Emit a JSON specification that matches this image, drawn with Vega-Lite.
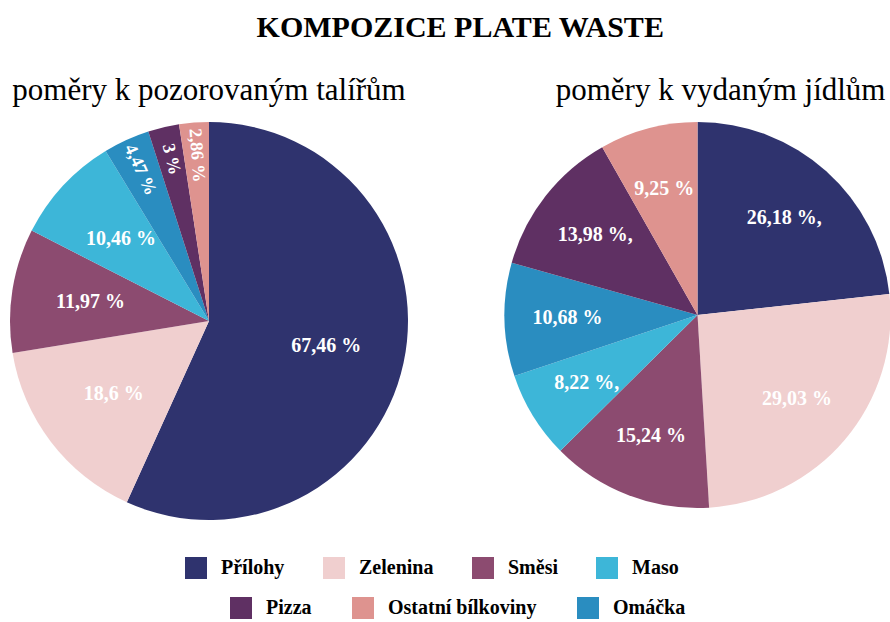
{
  "$schema": "https://vega.github.io/schema/vega-lite/v6.json",
  "background": "white",
  "padding": {"left": 10, "top": 13, "right": 0, "bottom": 0},
  "title": {"text": "KOMPOZICE PLATE WASTE", "font": "Liberation Serif", "fontSize": 30, "fontWeight": "bold", "color": "#000000", "anchor": "middle", "dx": 10, "offset": 32},
  "data": {"values": [
    {"graf": "talire", "kategorie": "Přílohy", "poradi": 1, "hodnota": 67.46, "popisek": "67,46 %"},
    {"graf": "talire", "kategorie": "Zelenina", "poradi": 2, "hodnota": 18.6, "popisek": "18,6 %"},
    {"graf": "talire", "kategorie": "Směsi", "poradi": 3, "hodnota": 11.97, "popisek": "11,97 %"},
    {"graf": "talire", "kategorie": "Maso", "poradi": 4, "hodnota": 10.46, "popisek": "10,46 %"},
    {"graf": "talire", "kategorie": "Omáčka", "poradi": 5, "hodnota": 4.47, "popisek": "4,47 %"},
    {"graf": "talire", "kategorie": "Pizza", "poradi": 6, "hodnota": 3, "popisek": "3 %"},
    {"graf": "talire", "kategorie": "Ostatní bílkoviny", "poradi": 7, "hodnota": 2.86, "popisek": "2,86 %"},
    {"graf": "jidla", "kategorie": "Přílohy", "poradi": 1, "hodnota": 26.18, "popisek": "26,18 %,"},
    {"graf": "jidla", "kategorie": "Zelenina", "poradi": 2, "hodnota": 29.03, "popisek": "29,03 %"},
    {"graf": "jidla", "kategorie": "Směsi", "poradi": 3, "hodnota": 15.24, "popisek": "15,24 %"},
    {"graf": "jidla", "kategorie": "Maso", "poradi": 4, "hodnota": 8.22, "popisek": "8,22 %,"},
    {"graf": "jidla", "kategorie": "Omáčka", "poradi": 5, "hodnota": 10.68, "popisek": "10,68 %"},
    {"graf": "jidla", "kategorie": "Pizza", "poradi": 6, "hodnota": 13.98, "popisek": "13,98 %,"},
    {"graf": "jidla", "kategorie": "Ostatní bílkoviny", "poradi": 7, "hodnota": 9.25, "popisek": "9,25 %"}
  ]},
  "spacing": 97,
  "bounds": "flush",
  "hconcat": [
    {
      "width": 398,
      "height": 398,
      "title": {"text": "poměry k pozorovaným talířům", "anchor": "middle", "offset": 15},
      "transform": [
        {"filter": "datum.graf == 'talire'"},
        {"joinaggregate": [{"op": "sum", "field": "hodnota", "as": "celkem"}]},
        {"window": [{"op": "sum", "field": "hodnota", "as": "kumulace"}], "sort": [{"field": "poradi", "order": "ascending"}], "frame": [null, 0]},
        {"calculate": "datum.hodnota / datum.celkem", "as": "podil"},
        {"calculate": "(datum.kumulace - datum.hodnota / 2) / datum.celkem * 360 + 90", "as": "uhel"},
        {"calculate": "datum.podil < 0.05 ? '' : datum.popisek", "as": "popisek_vodorovny"},
        {"calculate": "datum.podil < 0.05 ? datum.popisek : ''", "as": "popisek_radialni"}
      ],
      "layer": [
        {
          "mark": {"type": "arc", "outerRadius": 199},
          "encoding": {
            "theta": {"field": "hodnota", "type": "quantitative", "stack": true},
            "color": {
              "field": "kategorie", "type": "nominal",
              "scale": {
                "domain": ["Přílohy", "Zelenina", "Směsi", "Maso", "Pizza", "Ostatní bílkoviny", "Omáčka"],
                "range": ["#2F336E", "#F0CFCF", "#8C4B70", "#3DB6D8", "#5F3063", "#DE938F", "#2A8DC0"]
              },
              "legend": {
                "orient": "none",
                "legendX": 175,
                "legendY": 435,
                "direction": "horizontal",
                "columns": 4,
                "columnPadding": 38,
                "values": ["Přílohy", "Zelenina", "Směsi", "Maso"],
                "title": null
              }
            },
            "order": {"field": "poradi", "type": "quantitative"}
          }
        },
        {
          "mark": {"type": "text", "radius": 120, "font": "Liberation Serif", "fontSize": 20, "fontWeight": "bold", "fill": "#ffffff"},
          "encoding": {
            "theta": {"field": "hodnota", "type": "quantitative", "stack": true},
            "detail": {"field": "kategorie", "type": "nominal"},
            "order": {"field": "poradi", "type": "quantitative"},
            "text": {"field": "popisek_vodorovny", "type": "nominal"}
          }
        },
        {
          "mark": {"type": "text", "radius": 166, "font": "Liberation Serif", "fontSize": 18, "fontWeight": "bold", "fill": "#ffffff"},
          "encoding": {
            "theta": {"field": "hodnota", "type": "quantitative", "stack": true},
            "detail": {"field": "kategorie", "type": "nominal"},
            "order": {"field": "poradi", "type": "quantitative"},
            "text": {"field": "popisek_radialni", "type": "nominal"},
            "angle": {"field": "uhel", "type": "quantitative", "scale": null}
          }
        }
      ]
    },
    {
      "width": 385,
      "height": 386,
      "title": {"text": "poměry k vydaným jídlům", "anchor": "end", "dx": -5, "offset": 15},
      "transform": [
        {"filter": "datum.graf == 'jidla'"}
      ],
      "layer": [
        {
          "mark": {"type": "arc", "outerRadius": 193},
          "encoding": {
            "theta": {"field": "hodnota", "type": "quantitative", "stack": true},
            "color": {
              "field": "kategorie", "type": "nominal",
              "legend": {
                "orient": "none",
                "legendX": -275,
                "legendY": 475,
                "direction": "horizontal",
                "columns": 3,
                "columnPadding": 40,
                "values": ["Pizza", "Ostatní bílkoviny", "Omáčka"],
                "title": null
              }
            },
            "order": {"field": "poradi", "type": "quantitative"}
          }
        },
        {
          "mark": {"type": "text", "radius": 130, "font": "Liberation Serif", "fontSize": 20, "fontWeight": "bold", "fill": "#ffffff"},
          "encoding": {
            "theta": {"field": "hodnota", "type": "quantitative", "stack": true},
            "detail": {"field": "kategorie", "type": "nominal"},
            "order": {"field": "poradi", "type": "quantitative"},
            "text": {"field": "popisek", "type": "nominal"}
          }
        }
      ]
    }
  ],
  "resolve": {"scale": {"color": "shared"}, "legend": {"color": "independent"}},
  "config": {
    "view": {"stroke": null},
    "title": {"font": "Liberation Serif", "fontSize": 31, "fontWeight": "normal", "color": "#000000"},
    "text": {"align": "center", "baseline": "middle"},
    "legend": {
      "symbolType": "square",
      "symbolSize": 484,
      "symbolStrokeWidth": 0,
      "symbolOpacity": 1,
      "labelFont": "Liberation Serif",
      "labelFontSize": 20,
      "labelFontWeight": "bold",
      "labelColor": "#000000",
      "labelOffset": 14,
      "labelLimit": 300
    }
  }
}
